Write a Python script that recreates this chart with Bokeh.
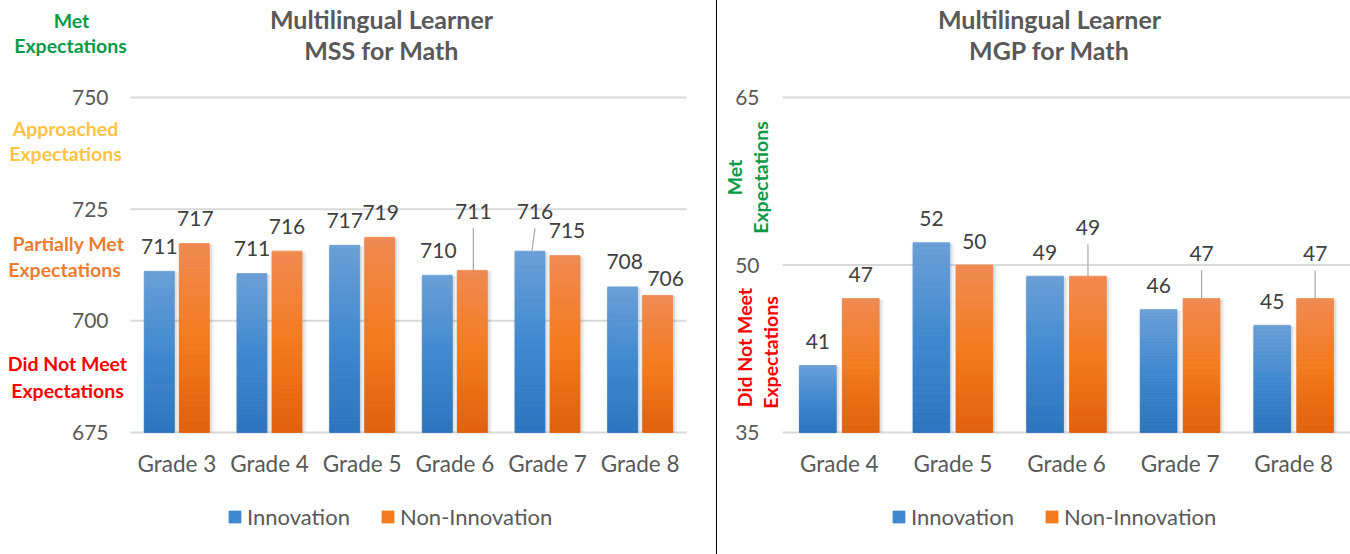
import math
from bokeh.plotting import figure
from bokeh.models import (ColumnDataSource, Range1d, Label, Legend, LegendItem, Div)
from bokeh.layouts import row
from bokeh.embed import file_html
from bokeh.resources import INLINE
from bokeh.core.properties import value

# ---------------- data ----------------
series_names = ["Innovation", "Non-Innovation"]

mss_title = ["Multilingual Learner", "MSS for Math"]
mss_grades = ["Grade 3", "Grade 4", "Grade 5", "Grade 6", "Grade 7", "Grade 8"]
mss_innovation = [711.1, 710.6, 716.9, 710.2, 715.6, 707.6]
mss_non_innovation = [717.3, 715.6, 718.7, 711.3, 714.6, 705.7]
mss_ticks = [675, 700, 725, 750]

mgp_title = ["Multilingual Learner", "MGP for Math"]
mgp_grades = ["Grade 4", "Grade 5", "Grade 6", "Grade 7", "Grade 8"]
mgp_innovation = [41.0, 52.0, 49.0, 46.0, 44.6]
mgp_non_innovation = [47.0, 50.0, 49.0, 47.0, 47.0]
mgp_ticks = [35, 50, 65]

# ---------------- style ----------------
FONT = "Lato"
GRAY = "#595959"
LABEL_GRAY = "#404040"
GRID = "#D9D9D9"
GREEN = "#0A9A47"
YELLOW = "#FFC445"
ORANGE_TXT = "#ED7D31"
RED = "#FF0000"
BLUE_STOPS = ["#2C74BD", "#4089CF", "#6A9FD6"]     # bottom, middle, top
ORANGE_STOPS = ["#E0600C", "#F47B1E", "#F08A52"]
BAR_W = 0.323
OFFS = [-0.189, 0.189]
H = 554
NSLICE = 80


def hex2rgb(h):
    return tuple(int(h[i:i + 2], 16) for i in (1, 3, 5))


def mix(c1, c2, t):
    a, b = hex2rgb(c1), hex2rgb(c2)
    return "#%02x%02x%02x" % tuple(int(round(a[i] + (b[i] - a[i]) * t)) for i in range(3))


def grad(stops, t):
    if t < 0.5:
        return mix(stops[0], stops[1], t / 0.5)
    return mix(stops[1], stops[2], (t - 0.5) / 0.5)


def make_panel(W, area, grades, inn, non, ticks, title, title_cx, bands, legend_x,
               label_dx, label_lift, default_lift, tick_standoff):
    L, T, R, B = area
    ymin, ymax = ticks[0], ticks[-1]
    n = len(grades)
    pxcat = (R - L) / n
    ppu = (B - T) / (ymax - ymin)
    xs, xe = -L / pxcat, (W - L) / pxcat
    ys, ye = ymin - (H - B) / ppu, ymax + T / ppu

    def px2x(px):
        return xs + px / pxcat

    def px2y(py):
        return ye - py / ppu

    p = figure(x_range=Range1d(xs, xe), y_range=Range1d(ys, ye),
               frame_width=W, frame_height=H, min_border=0,
               x_axis_type=None, y_axis_type=None,
               output_backend="svg", toolbar_location=None, title=None)
    p.outline_line_color = None
    p.background_fill_color = "white"
    p.border_fill_color = "white"

    cx = [i + 0.5 for i in range(n)]

    # horizontal gridlines
    p.segment(x0=[0] * len(ticks), x1=[n] * len(ticks), y0=ticks, y1=ticks,
              line_color=GRID, line_width=2)
    # value-axis tick labels
    p.text(x=[0] * len(ticks), y=ticks, text=[str(t) for t in ticks], x_offset=-tick_standoff,
           text_align="right", text_baseline="middle", text_font=value(FONT),
           text_font_size="21px", text_color=GRAY)
    # category labels
    p.text(x=cx, y=[ymin - 31 / ppu] * n, text=grades, text_align="center",
           text_baseline="middle", text_font=value(FONT), text_font_size="22.5px",
           text_color=GRAY)

    legend_items = []
    for si, (vals, stops, name) in enumerate(
            [(inn, BLUE_STOPS, series_names[0]), (non, ORANGE_STOPS, series_names[1])]):
        off = OFFS[si]
        bx = [c + off for c in cx]
        # soft shadow
        stop = [v - 1.0 / ppu for v in vals]
        p.vbar(x=[x + 1.5 / pxcat for x in bx], top=stop, bottom=ymin,
               width=BAR_W + 6 / pxcat, fill_color="black", fill_alpha=0.05, line_color=None)
        p.vbar(x=[x + 1.0 / pxcat for x in bx], top=stop, bottom=ymin,
               width=BAR_W + 3 / pxcat, fill_color="black", fill_alpha=0.08, line_color=None)
        # gradient bar made of slices
        g, b, t, c = [], [], [], []
        for x, v in zip(bx, vals):
            for k in range(NSLICE):
                g.append(x)
                b.append(ymin + (v - ymin) * k / NSLICE)
                t.append(ymin + (v - ymin) * (k + 1) / NSLICE)
                c.append(grad(stops, (k + 0.5) / NSLICE))
        src = ColumnDataSource(dict(x=g, b=b, t=t, c=c))
        r = p.vbar(x="x", bottom="b", top="t", width=BAR_W, source=src,
                   fill_color="c", line_color="c", line_width=0.8)
        legend_items.append(LegendItem(label=name, renderers=[r], index=NSLICE // 2))

        # data labels
        dxs = label_dx[si]
        lifts = label_lift[si]
        ly = [v + (default_lift + lf) / ppu for v, lf in zip(vals, lifts)]
        p.text(x=bx, y=ly, text=[str(int(round(v))) for v in vals], x_offset=dxs,
               text_align="center", text_baseline="middle",
               text_font=value(FONT), text_font_size="21px", text_color=LABEL_GRAY)
        # leader lines for lifted labels
        x0, y0, x1, y1 = [], [], [], []
        for x, v, lf, dx in zip(bx, vals, lifts, dxs):
            if lf >= 10:
                x0.append(x + dx / pxcat)
                y0.append(v + (default_lift + lf - 17) / ppu)
                x1.append(x + min(dx, 2) / pxcat)
                y1.append(v)
        if x0:
            p.segment(x0=x0, y0=y0, x1=x1, y1=y1, line_color="#A6A6A6", line_width=1.2)

    legend = Legend(items=legend_items, orientation="horizontal", location=(legend_x, 24),
                    label_text_font=FONT, label_text_font_size="22px",
                    label_text_color=GRAY, glyph_width=15, glyph_height=15,
                    label_standoff=5, spacing=30, padding=0, margin=0,
                    border_line_alpha=0, background_fill_alpha=0)
    p.add_layout(legend, "center")

    # title (two lines)
    for line, py in zip(title, [18, 49]):
        p.add_layout(Label(x=px2x(title_cx), y=px2y(py), text=line,
                           text_align="center", text_baseline="middle",
                           text_font=FONT, text_font_size="25px", text_font_style="bold",
                           text_color=GRAY))
    # performance-band labels
    for txt, col, px, py, ang in bands:
        p.add_layout(Label(x=px2x(px), y=px2y(py), text=txt, angle=ang,
                           text_align="center", text_baseline="middle",
                           text_font=FONT, text_font_size="19.5px", text_font_style="bold",
                           text_color=col))
    return p


left_bands = [
    ("Met", GREEN, 71, 20, 0), ("Expectations", GREEN, 70, 45, 0),
    ("Approached", YELLOW, 65, 128, 0), ("Expectations", YELLOW, 65, 153, 0),
    ("Partially Met", ORANGE_TXT, 68, 243, 0), ("Expectations", ORANGE_TXT, 64, 269, 0),
    ("Did Not Meet", RED, 67, 363, 0), ("Expectations", RED, 67, 390, 0),
]
right_bands = [
    ("Met", GREEN, 17, 177, math.pi / 2), ("Expectations", GREEN, 43, 177, math.pi / 2),
    ("Did Not Meet", RED, 27, 347, math.pi / 2), ("Expectations", RED, 53, 352, math.pi / 2),
]

left = make_panel(716, (130, 97, 686, 432), mss_grades, mss_innovation, mss_non_innovation,
                  mss_ticks, mss_title, 381, left_bands, 227,
                  label_dx=[[0, 0, 0, 1, 5, 2], [1, 0, 1, 1, 2, 8]],
                  label_lift=[[0, 0, 0, 0, 15, 0], [0, 0, 0, 34, 0, -8]],
                  default_lift=25, tick_standoff=22)
right = make_panel(633, (65, 97, 633, 432), mgp_grades, mgp_innovation, mgp_non_innovation,
                   mgp_ticks, mgp_title, 332, right_bands, 174,
                   label_dx=[[0, 0, 0, 0, 0], [0, 0, 0, 0, 0]],
                   label_lift=[[0, 0, 0, 0, 0], [0, 0, 25, 21, 21]],
                   default_lift=24, tick_standoff=23)

divider = Div(width=1, height=H, margin=0, styles={"background-color": "black"})
layout = row(left, divider, right, spacing=0)

open("out.html", "w").write(file_html(layout, INLINE))
